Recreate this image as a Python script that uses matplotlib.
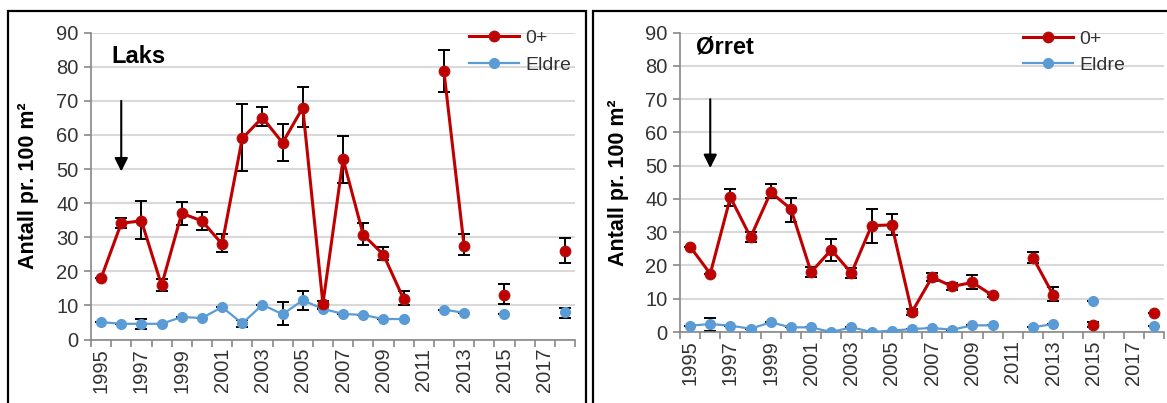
import numpy as np
import matplotlib.pyplot as plt
from matplotlib.patches import Rectangle

nan = np.nan
years = list(range(1995, 2019))

# Laks (salmon)
laks_0 = [18, 34.1, 34.8, 15.9, 37, 34.8, 28, 59, 65.1, 57.7, 68, 10.5, 52.9, 30.7, 24.9, 11.9,
          nan, 78.7, 27.5, nan, 13.2, nan, nan, 26.1]
laks_0_lo = [18, 32.7, 29.4, 14.1, 33.6, 32, 25.6, 49.4, 62.6, 52.4, 62.2, 9.3, 45.8, 27.8, 23.4, 10.2,
             nan, 72.6, 24.7, nan, 10.4, nan, nan, 22.5]
laks_0_hi = [18, 35.6, 40.7, 17.7, 40.4, 37.3, 30.9, 69.2, 68.2, 63.2, 74, 11.4, 59.8, 34.1, 27, 14.1,
             nan, 85, 30.9, nan, 16.3, nan, nan, 29.8]
laks_e = [5.1, 4.6, 4.6, 4.6, 6.6, 6.3, 9.5, 4.7, 10.2, 7.4, 11.5, 9, 7.5, 7.2, 6, 6,
          nan, 8.8, 7.8, nan, 7.5, nan, nan, 8.1]
laks_e_lo = [5.1, 4.6, 3.2, 4.6, 6.6, 6.3, 9.5, 3.7, 10.2, 4.2, 8.8, 9, 7.5, 7.2, 6, 6,
             nan, 8.8, 7.8, nan, 7.5, nan, nan, 6.3]
laks_e_hi = [5.1, 4.6, 6.0, 4.6, 6.6, 6.3, 9.5, 5.7, 10.2, 11, 14.3, 9, 7.5, 7.2, 6, 6,
             nan, 8.8, 7.8, nan, 7.5, nan, nan, 9.3]

# Ørret (trout)
orret_0 = [25.7, 17.5, 40.5, 28.5, 42, 37, 18, 24.7, 17.7, 32, 32.2, 6, 16.5, 13.7, 14.9, 11,
           nan, 22.4, 11.2, nan, 2.2, nan, nan, 5.7]
orret_0_lo = [25.7, 17.5, 38, 27, 40.4, 33.2, 16.5, 21.4, 16.2, 26.9, 29.2, 5, 15.2, 12.7, 12.9, 10.5,
              nan, 20.7, 9.4, nan, 1.4, nan, nan, 5.7]
orret_0_hi = [25.7, 17.5, 43, 30, 44.5, 40.4, 19.5, 27.9, 19.2, 37, 35.4, 7, 17.7, 14.7, 17, 11.5,
              nan, 24, 13.4, nan, 3, nan, nan, 5.7]
orret_e = [1.9, 2.4, 1.9, 1, 2.9, 1.4, 1.4, 0, 1.4, 0, 0.4, 0.9, 1.2, 0.7, 2, 2,
           nan, 1.4, 2.4, nan, 9.2, nan, nan, 1.9]
orret_e_lo = [1.9, 0.2, 1.9, 1, 2.9, 1.4, 1.4, 0, 1.4, 0, 0.4, 0.9, 1.2, 0.7, 2, 2,
              nan, 1.4, 2.4, nan, 9.2, nan, nan, 1.9]
orret_e_hi = [1.9, 4.2, 1.9, 1, 2.9, 1.4, 1.4, 0, 1.4, 0, 0.4, 0.9, 1.2, 0.7, 2, 2,
              nan, 1.4, 2.4, nan, 9.2, nan, nan, 1.9]

red = "#C00000"
blue = "#5B9BD5"
txt = "#333333"

plt.rcParams["font.family"] = ["Liberation Sans", "DejaVu Sans"]

fig = plt.figure(figsize=(11.67, 4.03), dpi=100)

# panel frames
fig.patches.append(Rectangle((7.5 / 1167, -0.1), (586 - 7.5) / 1167, 1.1 - 11 / 403,
                             transform=fig.transFigure, fill=False, lw=1.6, ec="black"))
fig.patches.append(Rectangle((593 / 1167, -0.1), 0.6, 1.1 - 11 / 403,
                             transform=fig.transFigure, fill=False, lw=1.6, ec="black"))

ax1 = fig.add_axes([91 / 1167, 1 - 339.5 / 403, 484 / 1167, 306.8 / 403])
ax2 = fig.add_axes([680 / 1167, 1 - 332 / 403, 484 / 1167, 299.3 / 403])


def draw(ax, y0, lo0, hi0, ye, loe, hie, name, name_pos, leg_pos, ylab_x):
    x = np.arange(len(years))
    y0, lo0, hi0 = np.array(y0), np.array(lo0), np.array(hi0)
    ye, loe, hie = np.array(ye), np.array(loe), np.array(hie)

    ax.grid(axis="y", color="#D9D9D9", lw=1.5)
    ax.set_axisbelow(True)

    ax.errorbar(x, ye, yerr=[ye - loe, hie - ye], fmt="none", ecolor="black",
                elinewidth=1.4, capsize=4, capthick=1.4, zorder=2)
    ax.errorbar(x, y0, yerr=[y0 - lo0, hi0 - y0], fmt="none", ecolor="black",
                elinewidth=1.4, capsize=4, capthick=1.4, zorder=2)
    ax.plot(x, ye, "-o", color=blue, lw=1.6, ms=7, mec=blue, label="Eldre", zorder=3)
    ax.plot(x, y0, "-o", color=red, lw=2.2, ms=7.5, mec="#B01010", label="0+", zorder=4)

    ax.set_xlim(-0.5, len(years) - 0.5)
    ax.set_ylim(0, 90)
    ax.set_yticks(range(0, 91, 10))
    ax.set_xticks(x[::2])
    ax.set_xticklabels([str(v) for v in years[::2]], rotation=90)
    ax.set_xticks(np.arange(-0.5, len(years), 1), minor=True)
    ax.tick_params(axis="x", which="major", length=0, pad=6, labelsize=14.5, labelcolor=txt)
    ax.tick_params(axis="x", which="minor", length=5, width=1.2, color="#888888")
    ax.tick_params(axis="y", length=5, width=1.2, color="#888888", labelsize=14.5,
                   labelcolor=txt, pad=4)

    for s in ["top", "right"]:
        ax.spines[s].set_visible(False)
    for s in ["left", "bottom"]:
        ax.spines[s].set_color("#888888")
        ax.spines[s].set_linewidth(1.2)

    ax.set_ylabel("Antall pr. 100 m²", fontsize=15.5, fontweight="bold", color="black")
    ax.yaxis.set_label_coords(ylab_x, 0.5)

    ax.text(name_pos[0], name_pos[1], name, transform=ax.transAxes, fontsize=17,
            fontweight="bold", va="baseline", ha="left")

    ax.annotate("", xy=(1, 49.3), xytext=(1, 70),
                arrowprops=dict(arrowstyle="-|>", color="black", lw=1.5, mutation_scale=20,
                                shrinkA=0, shrinkB=0))

    h, l = ax.get_legend_handles_labels()
    leg = ax.legend(h[::-1], l[::-1], loc="upper left", bbox_to_anchor=leg_pos, frameon=False,
                    fontsize=14, handlelength=2.6, handletextpad=0.3, labelspacing=0.45,
                    borderpad=0, borderaxespad=0)
    for t in leg.get_texts():
        t.set_color(txt)


draw(ax1, laks_0, laks_0_lo, laks_0_hi, laks_e, laks_e_lo, laks_e_hi,
     "Laks", (0.043, 0.902), (0.78, 1.01), -0.108)
draw(ax2, orret_0, orret_0_lo, orret_0_hi, orret_e, orret_e_lo, orret_e_hi,
     "Ørret", (0.033, 0.932), (0.708, 1.008), -0.105)

fig.savefig("out.png", dpi=100)
